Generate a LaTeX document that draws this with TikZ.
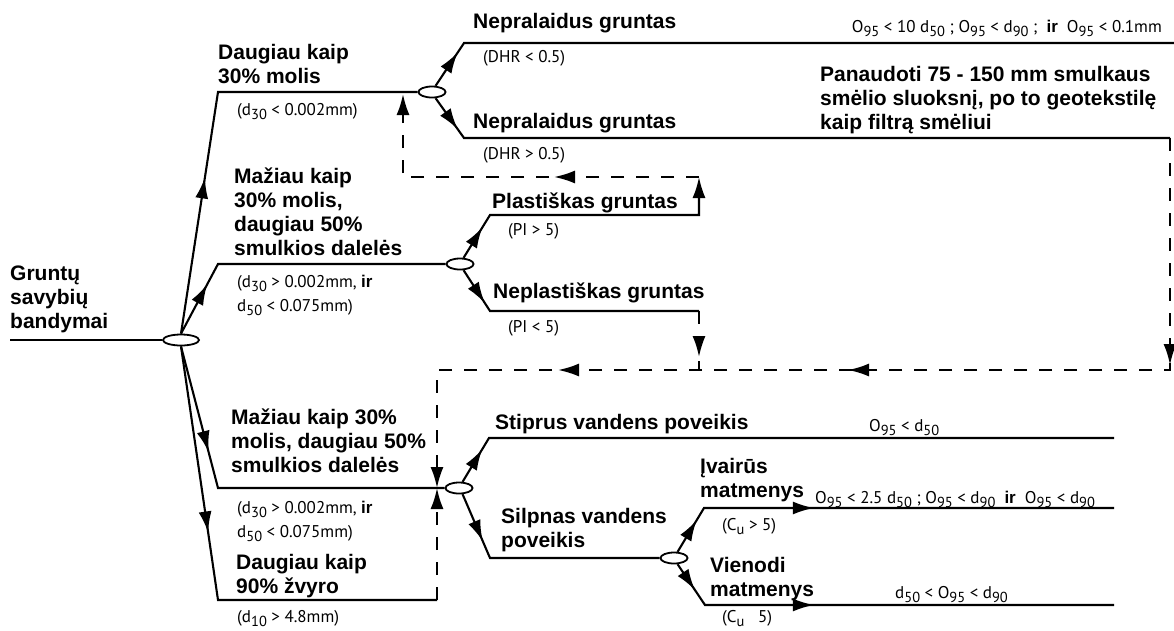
\documentclass[tikz,border=0pt]{standalone}
\usepackage{fontspec}
\setmainfont{Liberation Sans}
\newfontfamily\condfont{PT Sans}
\usetikzlibrary{arrows.meta,decorations.markings,shapes.geometric}
\newcommand{\lowidx}[1]{\raisebox{-0.28em}{\fontsize{14.5}{14.5}\selectfont #1}}
\newcommand{\irb}{{\normalfont\bfseries ir}}

\begin{document}
\begin{tikzpicture}[x=1pt, y=-1pt,
	>={Latex[length=21pt,width=13pt]},   %Pfeilspitzen
	line/.style={line width=2.1pt},
	dline/.style={line width=2.1pt, dash pattern=on 13pt off 12pt},
	split/.style={draw, ellipse, fill=white, line width=1.8pt, minimum width=27pt, minimum height=11pt, inner sep=0pt},
	tipat/.style={postaction={decorate, decoration={markings, mark=at position #1 with {\arrow{>}}}}},
	lbl/.style={anchor=base west, align=left, inner sep=0pt, font=\fontsize{21}{23.7}\selectfont\bfseries},
	cond/.style={anchor=base west, align=left, inner sep=0pt, font=\condfont\fontsize{17}{24}\selectfont}]
	\useasboundingbox (0,0) rectangle (1174,630);
	% Wurzel
	\node[split, minimum width=36pt] (r0) at (181,340) {};
	\coordinate (g0) at (10,340);
	\node[lbl] (tgr) at (10,328) {Gruntų\\savybių\\bandymai};
	\draw[line] (g0) -- (r0.west);
	% Verzweigungen
	\node[split] (e1) at (432,92) {};
	\node[split] (e2) at (460,264) {};
	\node[split] (e3) at (459,488) {};
	\node[split] (e4) at (674,558) {};
	% Ecken
	\coordinate (c1) at (218,92);
	\coordinate (c2) at (218,264);
	\coordinate (c3) at (218,488);
	\coordinate (c4) at (218,600);
	\coordinate (c5) at (437,600);
	\coordinate (m3) at (437,488);
	\coordinate (p1) at (464,43);  \coordinate (q1) at (1174,43);
	\coordinate (p2) at (464,138); \coordinate (q2) at (1170,138);
	\coordinate (p3) at (490,215); \coordinate (q3) at (699,215);
	\coordinate (p4) at (490,311); \coordinate (q4) at (699,311);
	\coordinate (p5) at (489,438); \coordinate (q5) at (1114,438);
	\coordinate (p6) at (490,558);
	\coordinate (p7) at (704,508); \coordinate (q7) at (1114,508);
	\coordinate (p8) at (705,605); \coordinate (q8) at (1114,605);
	\coordinate (k1) at (699,177);
	\coordinate (k2) at (403,177);
	\coordinate (k3) at (403,94);
	\coordinate (k4) at (699,370);
	\coordinate (k5) at (1170,370);
	\coordinate (k6) at (437,370);
	% Linien
	\draw[line, tipat=158pt] (r0.north) -- (c1) -- (e1.west);
	\draw[line, tipat=56pt] (r0.north) -- (c2) -- (e2.west);
	\draw[line, tipat=109pt] (r0.south) -- (c3) -- (e3.west);
	\draw[line, tipat=188pt] (r0.south) -- (c4) -- (c5);
	\draw[line, tipat=40pt] (e1.60) -- (p1) -- (q1);
	\draw[line, tipat=38pt] (e1.-60) -- (p2) -- (q2);
	\draw[line, tipat=36pt, ->] (e2.60) -- (p3) -- (q3) -- (k1);
	\draw[line, tipat=39pt] (e2.-60) -- (p4) -- (q4);
	\draw[line, tipat=38pt] (e3.60) -- (p5) -- (q5);
	\draw[line, tipat=51pt] (e3.-60) -- (p6) -- (e4.west);
	\draw[line, tipat=37pt, tipat=161pt] (e4.60) -- (p7) -- (q7);
	\draw[line, tipat=31pt, tipat=158pt] (e4.-60) -- (p8) -- (q8);
	% gestrichelte Rueckfuehrungen
	\draw[dline, tipat=145pt, ->] (k1) -- (k2) -- (k3);
	\draw[dline, tipat=46pt] (q4) -- (k4);
	\draw[dline, tipat=227pt, tipat=554pt, tipat=844pt, ->] (q2) -- (k5) -- (k6) -- (m3);
	\draw[dline, ->] (c5) -- (m3);
	% Beschriftungen
	\node[lbl] (t1) at (218,83) {Daugiau kaip\\30\% molis};
	\node[cond] (s1) at (237,115) {(d\lowidx{30} < 0.002mm)};
	\node[lbl] (t2) at (234,255) {Mažiau kaip\\30\% molis,\\daugiau 50\%\\smulkios dalelės};
	\node[cond] (s2) at (237,311) {(d\lowidx{30} > 0.002mm, \irb\\d\lowidx{50} < 0.075mm)};
	\node[lbl] (t3) at (231,472) {Mažiau kaip 30\%\\molis, daugiau 50\%\\smulkios dalelės};
	\node[cond] (s3) at (237,537) {(d\lowidx{30} > 0.002mm, \irb\\d\lowidx{50} < 0.075mm)};
	\node[lbl] (t4) at (236,593) {Daugiau kaip\\90\% žvyro};
	\node[cond] (s4) at (237,622) {(d\lowidx{10} > 4.8mm)};
	\node[lbl] (t5) at (473,28) {Nepralaidus gruntas};
	\node[cond] (s5) at (483,62) {(DHR < 0.5)};
	\node[lbl] (t6) at (473,128) {Nepralaidus gruntas};
	\node[cond] (s6) at (483,159) {(DHR > 0.5)};
	\node[lbl] (t7) at (492,208) {Plastiškas gruntas};
	\node[cond] (s7) at (508,235) {(PI > 5)};
	\node[lbl] (t8) at (493,298) {Neplastiškas gruntas};
	\node[cond] (s8) at (508,332) {(PI < 5)};
	\node[cond, anchor=base east] (f1) at (1162,32) {O\lowidx{95} < 10 d\lowidx{50} ; O\lowidx{95} < d\lowidx{90} ; \ \irb\ \ O\lowidx{95} < 0.1mm};
	\node[lbl] (t9) at (820,129) {Panaudoti 75 - 150 mm smulkaus\\smėlio sluoksnį, po to geotekstilę\\kaip filtrą smėliui};
	\node[lbl] (t10) at (495,429) {Stiprus vandens poveikis};
	\node[cond] (f2) at (869,431) {O\lowidx{95} < d\lowidx{50}};
	\node[lbl] (t11) at (700,497) {Įvairūs\\matmenys};
	\node[cond] (f3) at (815,503) {O\lowidx{95} < 2.5 d\lowidx{50} ; O\lowidx{95} < d\lowidx{90} \ \irb\ \ O\lowidx{95} < d\lowidx{90}};
	\node[cond] (s9) at (722,530) {(C\lowidx{u} > 5)};
	\node[lbl] (t12) at (501,547) {Silpnas vandens\\poveikis};
	\node[lbl] (t13) at (710,596) {Vienodi\\matmenys};
	\node[cond] (f4) at (895,598) {d\lowidx{50} < O\lowidx{95} < d\lowidx{90}};
	\node[cond] (s10) at (722,622) {(C\lowidx{u}\ \ \ 5)};
\end{tikzpicture}
\end{document}
